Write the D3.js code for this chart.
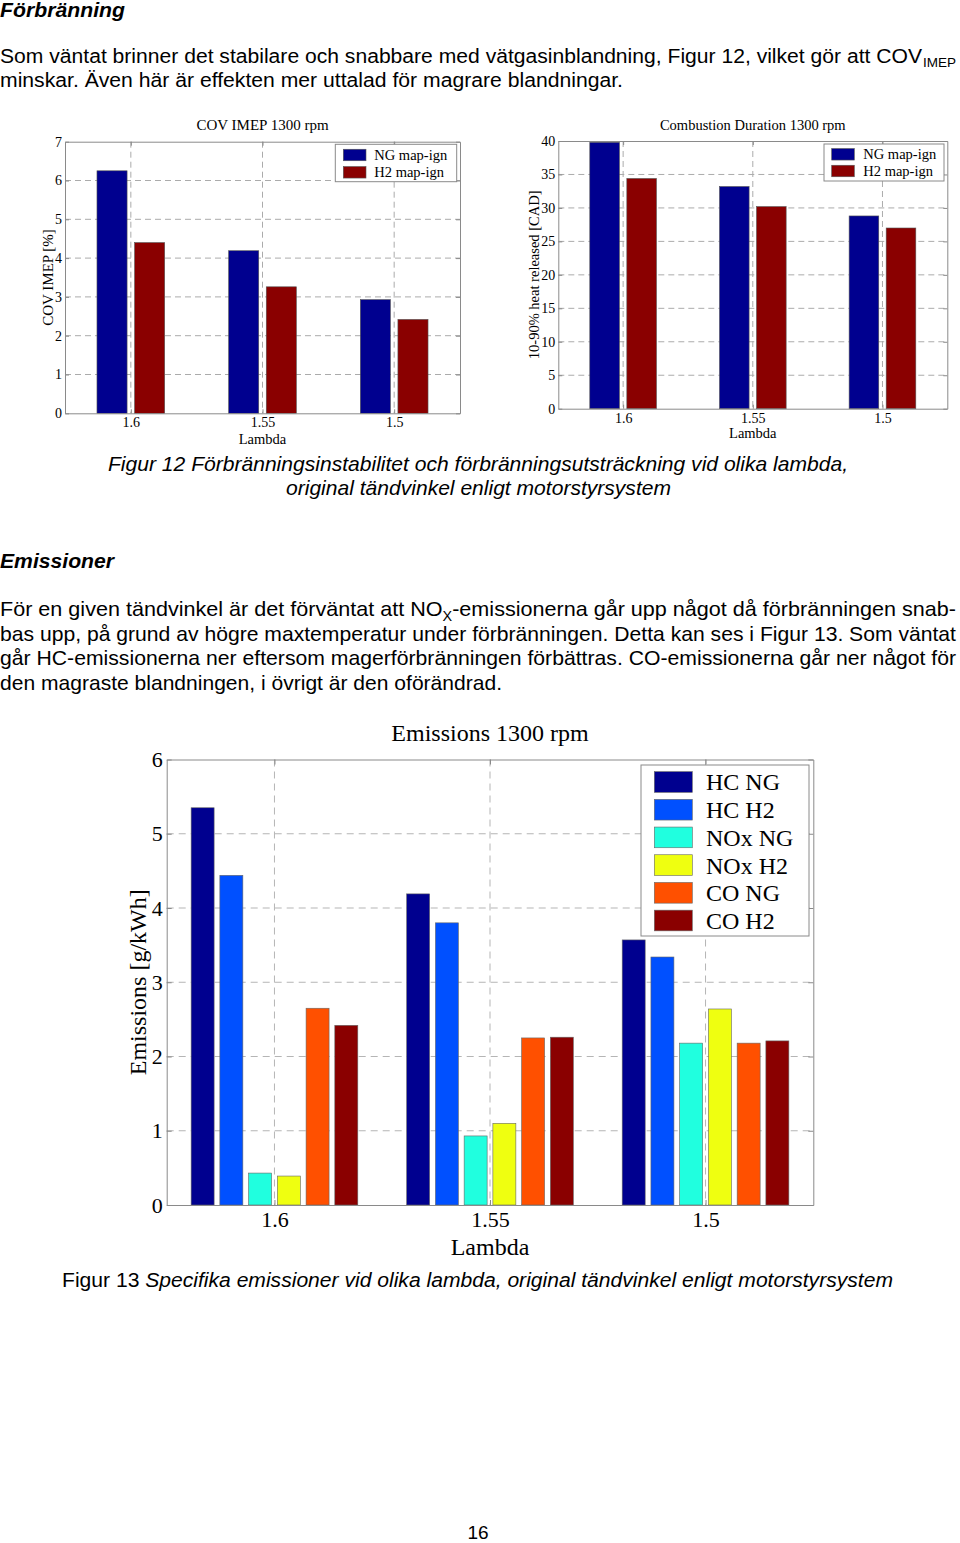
<!DOCTYPE html>
<html>
<head>
<meta charset="utf-8">
<script src="https://cdn.jsdelivr.net/npm/d3@7"></script>
<style>
  html, body { margin: 0; padding: 0; background: #fff; }
  svg { display: block; }
</style>
</head>
<body>
<script>
// ---------------- DATA ----------------
const lambdas = ["1.6", "1.55", "1.5"];

// Figure 12 left: COV IMEP [%]
const covSeriesNames = ["NG map-ign", "H2 map-ign"];
const covNG = [6.25, 4.19, 2.93];
const covH2 = [4.40, 3.26, 2.42];
const covTicks = [0, 1, 2, 3, 4, 5, 6, 7];

// Figure 12 right: 10-90% heat released [CAD]
const durSeriesNames = ["NG map-ign", "H2 map-ign"];
const durNG = [39.8, 33.2, 28.8];
const durH2 = [34.4, 30.2, 27.0];
const durTicks = [0, 5, 10, 15, 20, 25, 30, 35, 40];

// Figure 13: Emissions [g/kWh]
const emiSeriesNames = ["HC NG", "HC H2", "NOx NG", "NOx H2", "CO NG", "CO H2"];
const hcNG  = [5.35, 4.19, 3.57];
const hcH2  = [4.44, 3.80, 3.34];
const noxNG = [0.43, 0.93, 2.18];
const noxH2 = [0.39, 1.10, 2.64];
const coNG  = [2.65, 2.25, 2.18];
const coH2  = [2.42, 2.26, 2.21];
const emiTicks = [0, 1, 2, 3, 4, 5, 6];

// ---------------- PAGE ----------------
const W = 960, H = 1543;
const svg = d3.select("body").append("svg").attr("width", W).attr("height", H);
svg.append("rect").attr("width", W).attr("height", H).attr("fill", "#fff");

const SANS = "'Liberation Sans', Arial, sans-serif";
const NARROW = "'Liberation Sans Narrow', 'Liberation Sans', Arial, sans-serif";
const SERIF = "'Liberation Serif', 'Times New Roman', serif";

function txt(x, y, s, o = {}) {
  const t = svg.append("text").attr("x", x).attr("y", y).text(s)
    .attr("font-family", o.family || SANS)
    .attr("font-size", o.size || 20)
    .attr("fill", "#000");
  if (o.weight) t.attr("font-weight", o.weight);
  if (o.style) t.attr("font-style", o.style);
  if (o.anchor) t.attr("text-anchor", o.anchor);
  if (o.len) t.attr("textLength", o.len).attr("lengthAdjust", "spacingAndGlyphs");
  return t;
}

// Heading
txt(0, 17, "Förbränning", { weight: "bold", style: "italic", size: 20, len: 125 });
// Paragraph 1
txt(0, 63, "Som väntat brinner det stabilare och snabbare med vätgasinblandning, Figur 12, vilket gör att COV", { len: 922 });
txt(923, 67, "IMEP", { size: 13, len: 33 });
txt(0, 87, "minskar. Även här är effekten mer uttalad för magrare blandningar.", { len: 623 });

// Figure 12 caption
txt(108, 471, "Figur 12 Förbränningsinstabilitet och förbränningsutsträckning vid olika lambda,", { style: "italic", family: NARROW, size: 21, len: 740 });
txt(286, 495, "original tändvinkel enligt motorstyrsystem", { style: "italic", family: NARROW, size: 21, len: 385 });

// Heading Emissioner
txt(0, 568, "Emissioner", { weight: "bold", style: "italic", size: 20, len: 114 });

// Paragraph 2 (with subscript)
{
  const t = svg.append("text").attr("x", 0).attr("y", 616)
    .attr("font-family", NARROW).attr("font-size", 21).attr("fill", "#000")
    .attr("textLength", 956).attr("lengthAdjust", "spacingAndGlyphs");
  t.append("tspan").text("För en given tändvinkel är det förväntat att NO");
  t.append("tspan").attr("dy", 5).attr("font-size", 14).text("X");
  t.append("tspan").attr("dy", -5).text("-emissionerna går upp något då förbränningen snab-");
}
txt(0, 641, "bas upp, på grund av högre maxtemperatur under förbränningen. Detta kan ses i Figur 13. Som väntat", { family: NARROW, size: 21, len: 956 });
txt(0, 665, "går HC-emissionerna ner eftersom magerförbränningen förbättras. CO-emissionerna går ner något för", { family: NARROW, size: 21, len: 956 });
txt(0, 690, "den magraste blandningen, i övrigt är den oförändrad.", { family: NARROW, size: 21, len: 502 });

// Figure 13 caption
{
  const t = svg.append("text").attr("x", 62).attr("y", 1287)
    .attr("font-family", SANS).attr("font-size", 20).attr("fill", "#000")
    .attr("textLength", 831).attr("lengthAdjust", "spacingAndGlyphs");
  t.append("tspan").text("Figur 13 ");
  t.append("tspan").attr("font-style", "italic").text("Specifika emissioner vid olika lambda, original tändvinkel enligt motorstyrsystem");
}

// Page number
txt(478, 1539, "16", { anchor: "middle", size: 19 });

// ---------------- CHART FUNCTION ----------------
function barChart(cfg) {
  const g = svg.append("g");
  const { left, right, top, bottom } = cfg.box;
  const x = d3.scaleLinear().domain([0.5, lambdas.length + 0.5]).range([left, right]);
  const y = d3.scaleLinear().domain([cfg.ticks[0], cfg.ticks[cfg.ticks.length - 1]]).range([bottom, top]);
  const n = cfg.series.length;
  const groupW = Math.min(0.8, n / (n + 1.5));
  const pitch = groupW / n;
  const barW = pitch * 0.8;

  // grid
  const grid = g.append("g").attr("stroke", cfg.gridColor).attr("stroke-width", 1)
    .attr("stroke-dasharray", cfg.dash).attr("fill", "none");
  cfg.ticks.slice(1, -1).forEach(v => {
    grid.append("line").attr("x1", left).attr("x2", right).attr("y1", y(v)).attr("y2", y(v));
  });
  lambdas.forEach((l, i) => {
    grid.append("line").attr("x1", x(i + 1)).attr("x2", x(i + 1)).attr("y1", top).attr("y2", bottom);
  });

  // bars
  cfg.series.forEach((s, si) => {
    const off = (si - (n - 1) / 2) * pitch;
    g.append("g").selectAll("rect").data(s.values).join("rect")
      .attr("x", (d, i) => x(i + 1 + off - barW / 2))
      .attr("width", x(barW) - x(0))
      .attr("y", d => y(d))
      .attr("height", d => y(cfg.ticks[0]) - y(d))
      .attr("fill", s.color)
      .attr("stroke", cfg.barStroke).attr("stroke-width", 0.6);
  });

  // axes
  const styleAxis = (sel, showText) => {
    sel.selectAll(".domain").attr("stroke", cfg.axisColor).attr("stroke-width", 1);
    sel.selectAll(".tick line").attr("stroke", cfg.axisColor);
    sel.selectAll("text").attr("font-family", SERIF).attr("font-size", cfg.tickSize).attr("fill", "#000");
    if (!showText) sel.selectAll("text").remove();
  };
  const ay = g.append("g").attr("transform", `translate(${left},0)`)
    .call(d3.axisLeft(y).tickValues(cfg.ticks).tickSize(-cfg.tickLen).tickSizeOuter(0).tickPadding(cfg.yPad).tickFormat(d3.format("d")));
  styleAxis(ay, true);
  const ayr = g.append("g").attr("transform", `translate(${right},0)`)
    .call(d3.axisRight(y).tickValues(cfg.ticks).tickSize(-cfg.tickLen).tickSizeOuter(0));
  styleAxis(ayr, false);
  const ax = g.append("g").attr("transform", `translate(0,${bottom})`)
    .call(d3.axisBottom(x).tickValues(lambdas.map((d, i) => i + 1)).tickSize(-cfg.tickLen).tickSizeOuter(0)
      .tickPadding(cfg.xPad).tickFormat((d) => lambdas[d - 1]));
  styleAxis(ax, true);
  const axt = g.append("g").attr("transform", `translate(0,${top})`)
    .call(d3.axisTop(x).tickValues(lambdas.map((d, i) => i + 1)).tickSize(-cfg.tickLen).tickSizeOuter(0));
  styleAxis(axt, false);

  // titles
  g.append("text").attr("x", (left + right) / 2).attr("y", cfg.titleY).attr("text-anchor", "middle")
    .attr("font-family", SERIF).attr("font-size", cfg.titleSize).text(cfg.title);
  g.append("text").attr("x", (left + right) / 2).attr("y", cfg.xLabelY).attr("text-anchor", "middle")
    .attr("font-family", SERIF).attr("font-size", cfg.labelSize).text("Lambda");
  g.append("text").attr("transform", `translate(${cfg.yLabelX},${(top + bottom) / 2}) rotate(-90)`)
    .attr("text-anchor", "middle").attr("font-family", SERIF).attr("font-size", cfg.yLabelSize || cfg.labelSize).text(cfg.yLabel);

  // legend
  const L = cfg.legend;
  const lg = g.append("g");
  lg.append("rect").attr("x", L.x).attr("y", L.y).attr("width", L.w).attr("height", L.h)
    .attr("fill", "#fff").attr("stroke", cfg.axisColor).attr("stroke-width", 1);
  cfg.series.forEach((s, si) => {
    const cy = L.firstY + si * L.pitch;
    lg.append("rect").attr("x", L.swX).attr("y", cy - L.swH / 2).attr("width", L.swW).attr("height", L.swH)
      .attr("fill", s.color).attr("stroke", cfg.barStroke).attr("stroke-width", 0.6);
    lg.append("text").attr("x", L.textX).attr("y", cy).attr("dy", "0.35em")
      .attr("font-family", SERIF).attr("font-size", L.size).text(s.name);
  });
}

const NGc = "#00008F", H2c = "#8A0000";

barChart({
  box: { left: 65, right: 460, top: 141.7, bottom: 413.3 },
  ticks: covTicks,
  series: [{ name: covSeriesNames[0], values: covNG, color: NGc }, { name: covSeriesNames[1], values: covH2, color: H2c }],
  gridColor: "#ababab", dash: "6,4", axisColor: "#8a8a8a", barStroke: "#555",
  tickSize: 14, tickLen: 4, yPad: 3, xPad: 4,
  title: "COV IMEP 1300 rpm", titleY: 130, titleSize: 15,
  xLabelY: 444, labelSize: 14.5, yLabel: "COV IMEP [%]", yLabelSize: 15, yLabelX: 53,
  legend: { x: 335.3, y: 144.3, w: 121.4, h: 37.4, swX: 343.3, swW: 22.7, swH: 11.5, firstY: 155, pitch: 17.3, textX: 374.3, size: 14.5 }
});

barChart({
  box: { left: 558.3, right: 947.3, top: 141, bottom: 408.7 },
  ticks: durTicks,
  series: [{ name: durSeriesNames[0], values: durNG, color: NGc }, { name: durSeriesNames[1], values: durH2, color: H2c }],
  gridColor: "#ababab", dash: "6,4", axisColor: "#8a8a8a", barStroke: "#555",
  tickSize: 14, tickLen: 4, yPad: 3, xPad: 4,
  title: "Combustion Duration 1300 rpm", titleY: 130, titleSize: 14.5,
  xLabelY: 438, labelSize: 14.5, yLabel: "10-90% heat released [CAD]", yLabelSize: 14.5, yLabelX: 539,
  legend: { x: 824, y: 144, w: 120, h: 37, swX: 831.7, swW: 22.6, swH: 11.5, firstY: 154.3, pitch: 16.7, textX: 863.3, size: 14.5 }
});

barChart({
  box: { left: 166.7, right: 813.3, top: 759.5, bottom: 1205 },
  ticks: emiTicks,
  series: [
    { name: emiSeriesNames[0], values: hcNG, color: "#00008F" },
    { name: emiSeriesNames[1], values: hcH2, color: "#0050FF" },
    { name: emiSeriesNames[2], values: noxNG, color: "#20FFDF" },
    { name: emiSeriesNames[3], values: noxH2, color: "#EFFF10" },
    { name: emiSeriesNames[4], values: coNG, color: "#FF5000" },
    { name: emiSeriesNames[5], values: coH2, color: "#8A0000" }
  ],
  gridColor: "#b5b5b5", dash: "7,5", axisColor: "#8a8a8a", barStroke: "#666",
  tickSize: 22, tickLen: 5, yPad: 4, xPad: 6,
  title: "Emissions 1300 rpm", titleY: 741, titleSize: 24,
  xLabelY: 1255, labelSize: 24, yLabel: "Emissions [g/kWh]", yLabelX: 146,
  legend: { x: 641, y: 765, w: 168, h: 171, swX: 654.3, swW: 38, swH: 20.7, firstY: 782, pitch: 27.7, textX: 706, size: 24 }
});
</script>
</body>
</html>
